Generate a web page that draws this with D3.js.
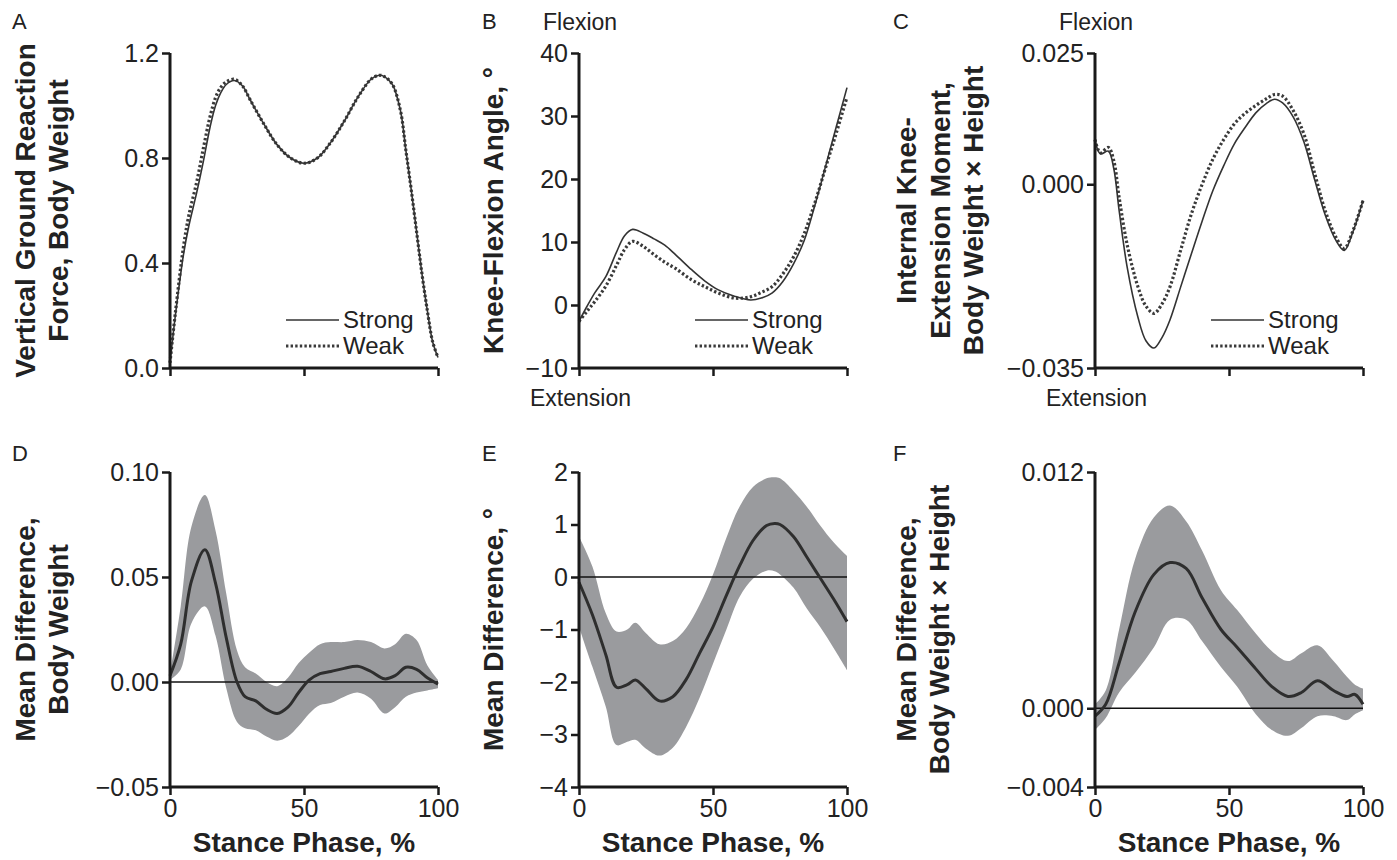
<!DOCTYPE html>
<html>
<head>
<meta charset="utf-8">
<script src="https://cdn.jsdelivr.net/npm/d3@7"></script>
<style>
  body { margin: 0; background: #fff; }
  svg text { font-family: "Liberation Sans", Arial, Helvetica, sans-serif; fill: #222; }
</style>
</head>
<body>
<div id="chart"></div>
<script>
var width = 1397
var height = 860

// ---- data ----
// A: vertical ground reaction force (body weight)
const grfX = [0,2,5,7,10,12.5,15,17,19,21,24,27,30,35,40,45,50,55,60,65,70,75,78,80,83,86,88,90,92,94,96,98,100];
const grfStrong = [0.02,0.20,0.43,0.54,0.67,0.79,0.92,1.00,1.05,1.08,1.095,1.075,1.02,0.93,0.85,0.80,0.78,0.80,0.86,0.94,1.03,1.10,1.115,1.11,1.08,0.98,0.83,0.68,0.52,0.36,0.22,0.10,0.04];
const grfWeak   = [0.02,0.21,0.46,0.58,0.71,0.84,0.96,1.03,1.07,1.09,1.10,1.075,1.02,0.93,0.85,0.80,0.78,0.80,0.86,0.94,1.03,1.10,1.115,1.11,1.08,0.98,0.83,0.68,0.52,0.36,0.22,0.10,0.04];

// B: knee-flexion angle (deg)
const angX = [0,3,6,10,14,17,20,24,28,32,36,42,47,52,58,64,68,72,76,80,84,88,92,96,100];
const angStrong = [-2.6,-0.2,2.0,4.5,8.4,11.0,12.0,11.4,10.5,9.5,8.0,5.6,3.8,2.4,1.4,0.8,1.1,1.9,3.7,6.5,10.2,15.8,22.0,28.3,34.5];
const angWeak   = [-2.6,-1.0,0.6,3.0,6.3,8.8,10.1,9.3,8.0,6.8,5.8,4.0,2.9,1.9,1.1,1.3,2.0,2.9,4.9,7.6,11.3,16.2,21.8,27.3,33.0];

// C: internal knee-extension moment (BW x Ht)
const momX = [0,2,5,7,9,12,16,19,22,25,28,32,36,40,44,48,52,56,60,64,67,70,74,78,82,86,90,93,96,100];
const momStrong = [0.0085,0.0058,0.0063,0.0030,-0.0050,-0.0158,-0.0253,-0.0298,-0.0312,-0.0292,-0.0258,-0.0195,-0.0132,-0.0070,-0.0012,0.0035,0.0077,0.0108,0.0136,0.0154,0.0162,0.0155,0.0128,0.0080,0.0008,-0.0060,-0.0108,-0.0126,-0.0094,-0.0031];
const momWeak   = [0.0085,0.0060,0.0070,0.0045,-0.0025,-0.0115,-0.0195,-0.0232,-0.0246,-0.0228,-0.0195,-0.0125,-0.0056,0.0000,0.0048,0.0085,0.0115,0.0135,0.0150,0.0163,0.0171,0.0168,0.0140,0.0095,0.0020,-0.0052,-0.0102,-0.0122,-0.0092,-0.0031];

// D: mean difference in vGRF with confidence band
const dX = [0,4,8,13,17,21,25,28,32,36,40,44,48,52,56,60,65,70,75,80,84,88,92,96,100];
const dMean  = [0.003,0.018,0.048,0.063,0.047,0.021,0.000,-0.007,-0.009,-0.013,-0.015,-0.012,-0.005,0.001,0.004,0.005,0.0065,0.0075,0.005,0.0015,0.003,0.007,0.006,0.002,-0.001];
const dUpper = [0.004,0.036,0.074,0.089,0.072,0.042,0.015,0.007,0.004,0.000,-0.002,0.002,0.009,0.014,0.018,0.019,0.019,0.020,0.019,0.016,0.018,0.023,0.020,0.008,0.001];
const dLower = [0.001,0.006,0.028,0.036,0.022,-0.003,-0.019,-0.022,-0.023,-0.026,-0.028,-0.026,-0.021,-0.015,-0.011,-0.010,-0.007,-0.005,-0.008,-0.015,-0.012,-0.007,-0.005,-0.004,-0.003];

// E: mean difference in knee-flexion angle
const eX = [0,5,10,14,18,21,25,30,35,40,45,50,55,60,65,70,73,75,80,85,90,95,100];
const eMean  = [-0.10,-0.72,-1.48,-2.10,-2.05,-1.96,-2.13,-2.36,-2.28,-1.95,-1.45,-0.95,-0.35,0.22,0.70,0.98,1.02,1.00,0.77,0.38,-0.02,-0.42,-0.85];
const eUpper = [0.77,0.20,-0.69,-1.04,-1.00,-0.87,-1.07,-1.28,-1.22,-0.97,-0.53,0.05,0.75,1.35,1.72,1.88,1.90,1.88,1.64,1.34,0.98,0.66,0.40];
const eLower = [-0.95,-1.71,-2.47,-3.20,-3.14,-3.10,-3.27,-3.40,-3.25,-2.85,-2.30,-1.65,-1.00,-0.37,-0.03,0.12,0.11,0.05,-0.20,-0.60,-0.95,-1.35,-1.77];

// F: mean difference in knee-extension moment
const fX = [0,4,9,15,22,28,34,40,47,53,60,66,72,77,83,89,94,97,100];
const fMean  = [-0.0004,0.0002,0.0023,0.0049,0.0068,0.0074,0.0071,0.0056,0.0040,0.0031,0.0020,0.0011,0.0006,0.0008,0.0014,0.0009,0.0006,0.0007,0.0002];
const fUpper = [0.0002,0.0009,0.0040,0.0076,0.0097,0.0103,0.0095,0.0080,0.0060,0.0050,0.0038,0.0029,0.0024,0.0028,0.0032,0.0024,0.0016,0.0012,0.0010];
const fLower = [-0.0011,-0.0005,0.0008,0.0018,0.0031,0.0045,0.0045,0.0034,0.0021,0.0011,-0.0003,-0.0011,-0.0014,-0.0010,-0.0004,-0.0004,-0.0006,-0.0003,-0.0001];

const xTicks = [0, 50, 100];
const seriesNames = ["Strong", "Weak"];

// ---- layout ----
const colX = [170, 579, 1095];
const plotW = 268;
const rowY = [53, 472];
const plotH = 315;

const svg = d3.select("#chart")
    .append("svg")
    .attr("width", width)
    .attr("height", height);

const panels = [
  { letter: "A", col: 0, row: 0, domain: [0, 1.2], ticks: [0, 0.4, 0.8, 1.2], fmt: d3.format(".1f"),
    labels: [["Vertical Ground Reaction", 35], ["Force, Body Weight", 68]],
    x: grfX, lines: [grfStrong, grfWeak] },
  { letter: "B", col: 1, row: 0, domain: [-10, 40], ticks: [-10, 0, 10, 20, 30, 40], fmt: d3.format("d"),
    labels: [["Knee-Flexion Angle, °", 503]], flex: true,
    x: angX, lines: [angStrong, angWeak] },
  { letter: "C", col: 2, row: 0, domain: [-0.035, 0.025], ticks: [-0.035, 0, 0.025], fmt: d3.format(".3f"),
    labels: [["Internal Knee-", 916], ["Extension Moment,", 950], ["Body Weight × Height", 983]], flex: true,
    x: momX, lines: [momStrong, momWeak] },
  { letter: "D", col: 0, row: 1, domain: [-0.05, 0.10], ticks: [-0.05, 0, 0.05, 0.10], fmt: d3.format(".2f"),
    labels: [["Mean Difference,", 35], ["Body Weight", 68]],
    x: dX, mean: dMean, upper: dUpper, lower: dLower },
  { letter: "E", col: 1, row: 1, domain: [-4, 2], ticks: [-4, -3, -2, -1, 0, 1, 2], fmt: d3.format("d"),
    labels: [["Mean Difference, °", 503]],
    x: eX, mean: eMean, upper: eUpper, lower: eLower },
  { letter: "F", col: 2, row: 1, domain: [-0.004, 0.012], ticks: [-0.004, 0, 0.012], fmt: d3.format(".3f"),
    labels: [["Mean Difference,", 916], ["Body Weight × Height", 949]],
    x: fX, mean: fMean, upper: fUpper, lower: fLower }
];

const letterX = [12, 482, 893];
const letterY = [29, 461];
const minus = s => s.replace("-", "\u2212");

panels.forEach(function(p) {
  const left = colX[p.col], top = rowY[p.row];
  const xs = d3.scaleLinear().domain([0, 100]).range([left, left + plotW]);
  const ys = d3.scaleLinear().domain(p.domain).range([top + plotH, top]);
  const g = svg.append("g");

  // panel letter
  svg.append("text")
      .attr("x", letterX[p.col])
      .attr("y", letterY[p.row])
      .style("font-size", "22px")
      .text(p.letter);

  // y axis title lines
  p.labels.forEach(function(l) {
    svg.append("text")
        .attr("transform", "translate(" + l[1] + "," + (top + plotH / 2) + ") rotate(-90)")
        .attr("text-anchor", "middle")
        .style("font-size", "28px")
        .style("font-weight", "bold")
        .text(l[0]);
  });

  if (p.mean) {
    // confidence band
    g.append("path")
        .datum(p.x.map((d, i) => [d, p.lower[i], p.upper[i]]))
        .attr("fill", "#9a9b9e")
        .attr("d", d3.area()
            .x(d => xs(d[0]))
            .y0(d => ys(d[1]))
            .y1(d => ys(d[2]))
            .curve(d3.curveCatmullRom));
    // zero line
    g.append("line")
        .attr("x1", xs(0)).attr("x2", xs(100))
        .attr("y1", ys(0)).attr("y2", ys(0))
        .attr("stroke", "#111")
        .attr("stroke-width", 1.6);
    g.append("path")
        .datum(p.x.map((d, i) => [d, p.mean[i]]))
        .attr("fill", "none")
        .attr("stroke", "#2e2e2e")
        .attr("stroke-width", 3)
        .attr("d", d3.line().x(d => xs(d[0])).y(d => ys(d[1])).curve(d3.curveCatmullRom));
  } else {
    // strong = solid, weak = dotted
    const styles = [
      { stroke: "#333", w: 1.6, dash: null },
      { stroke: "#3a3a3a", w: 3.2, dash: "2.4,2.2" }
    ];
    p.lines.slice().reverse().forEach(function(vals, j) {
      const k = 1 - j;
      g.append("path")
          .datum(p.x.map((d, i) => [d, vals[i]]))
          .attr("fill", "none")
          .attr("stroke", styles[k].stroke)
          .attr("stroke-width", styles[k].w)
          .attr("stroke-dasharray", styles[k].dash)
          .attr("d", d3.line().x(d => xs(d[0])).y(d => ys(d[1])).curve(d3.curveCatmullRom));
    });
    // legend
    seriesNames.forEach(function(name, k) {
      const ly = 320 + k * 26;
      g.append("line")
          .attr("x1", left + 116).attr("x2", left + 169)
          .attr("y1", ly).attr("y2", ly)
          .attr("stroke", styles[k].stroke)
          .attr("stroke-width", styles[k].w)
          .attr("stroke-dasharray", styles[k].dash);
      g.append("text")
          .attr("x", left + 173)
          .attr("y", ly + 8)
          .style("font-size", "24px")
          .text(name);
    });
    if (p.flex) {
      svg.append("text").attr("x", left - 36).attr("y", 30)
          .style("font-size", "23px").text("Flexion");
      svg.append("text").attr("x", left - 49).attr("y", 406)
          .style("font-size", "23px").text("Extension");
    }
  }

  // axes
  const yAxis = g.append("g")
      .attr("transform", "translate(" + left + ",0)")
      .call(d3.axisLeft(ys).tickValues(p.ticks).tickSize(8).tickPadding(3)
            .tickFormat(d => minus(p.fmt(d))));
  const xAxis = g.append("g")
      .attr("transform", "translate(0," + (top + plotH) + ")")
      .call(d3.axisBottom(xs).tickValues(xTicks).tickSize(8).tickPadding(4)
            .tickFormat(p.row == 1 ? d3.format("d") : ""));
  [yAxis, xAxis].forEach(function(a) {
    a.select(".domain").attr("stroke", "#1a1a1a").attr("stroke-width", 3);
    a.selectAll(".tick line").attr("stroke", "#1a1a1a").attr("stroke-width", 2.5);
    a.selectAll(".tick text").style("font-size", "25px").attr("fill", "#222")
        .style("font-family", "'Liberation Sans', Arial, sans-serif");
  });
  xAxis.select(".domain").attr("d", "M" + left + ",0H" + (left + plotW));
  yAxis.select(".domain").attr("d", "M0," + (top + plotH) + "V" + top);

  if (p.row == 1) {
    svg.append("text")
        .attr("x", left + plotW / 2)
        .attr("y", 852)
        .attr("text-anchor", "middle")
        .style("font-size", "28px")
        .style("font-weight", "bold")
        .text("Stance Phase, %");
  }
});
</script>
</body>
</html>
